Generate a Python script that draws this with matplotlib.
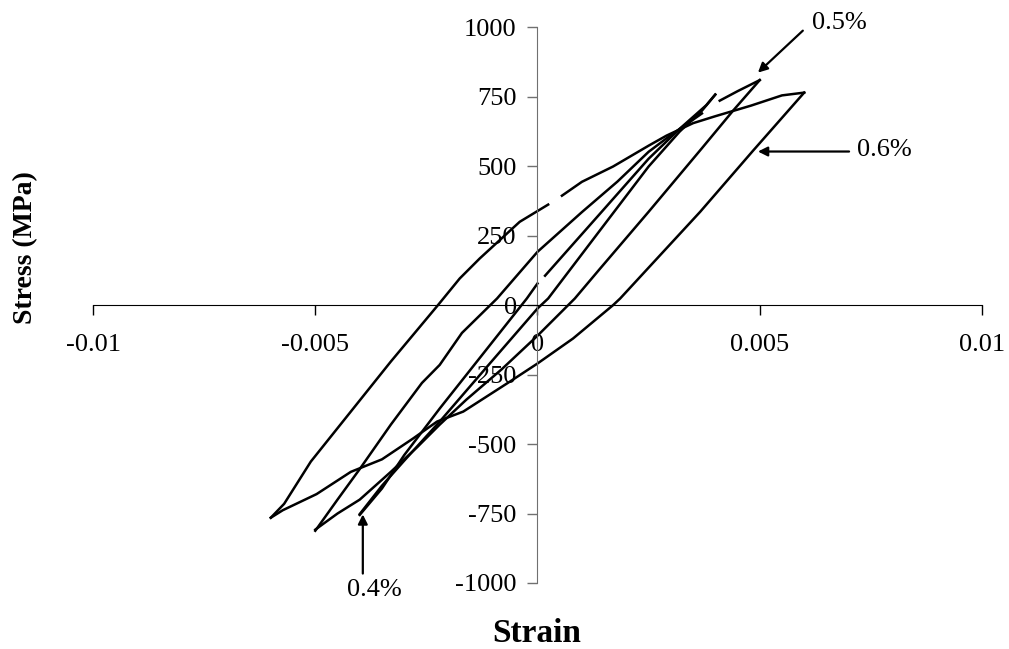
import numpy as np
import matplotlib
matplotlib.use("Agg")
import matplotlib.pyplot as plt

plt.rcParams['font.family'] = ['Liberation Serif', 'DejaVu Serif']

nan = float('nan')

# 0.6% loop (nan = break in the recorded line)
strain_06_load = [-0.006, -0.0057, -0.0051, -0.0042, -0.0033, -0.00224, -0.00175, -0.0013, -0.0004, 0.00024,
                  nan, 0.00055, 0.001, 0.0017, 0.0025, 0.0029, 0.0035, 0.004, 0.0048, 0.0055, 0.006]
stress_06_load = [-765, -715, -563, -383, -203, 0, 96, 168, 300, 362,
                  nan, 394, 444, 499, 574, 610, 655, 680, 718, 755, 765]
strain_06_unload = [0.006, 0.00485, 0.00366, 0.0025, 0.00186, 0.0017, 0.0008, 0.0, -0.00062, -0.00167,
                    -0.00226, -0.0028, -0.0035, -0.0042, -0.00497, -0.00573, -0.006]
stress_06_unload = [765, 556, 336, 135, 24, 0, -120, -210, -275, -383,
                    -419, -480, -555, -600, -680, -738, -765]

# 0.5% loop
strain_05_load = [-0.005, -0.0045, -0.004, -0.0033, -0.0026, -0.0022, -0.0017, -0.00091, 0.0, 0.001,
                  0.0018, 0.0025, 0.003, 0.0037, nan, 0.0041, 0.0045, 0.005]
stress_05_load = [-812, -700, -590, -430, -280, -215, -100, 24, 192, 335,
                  445, 552, 612, 690, nan, 736, 770, 810]
strain_05_unload = [0.005, 0.0044, 0.0037, 0.0025, 0.0014, 0.00084, 0.0, -0.0008, -0.0016, -0.0022,
                    -0.0027, -0.0033, -0.004, -0.0045, -0.005]
stress_05_unload = [810, 700, 565, 336, 130, 24, -110, -230, -340, -430,
                    -510, -600, -700, -750, -808]

# 0.4% loop
strain_04_load = [-0.004, -0.0035, -0.003, -0.0022, -0.0012, -0.00024, 0.0, nan, 0.00017, 0.0014,
                  0.0025, 0.0032, 0.0038, 0.004]
stress_04_load = [-755, -660, -540, -372, -170, 24, 78, nan, 106, 328,
                  527, 635, 720, 758]
strain_04_unload = [0.004, 0.0037, 0.0032, 0.0025, 0.0014, 0.00024, 0.0, -0.0011, -0.0022, -0.003,
                    -0.0035, -0.004]
stress_04_unload = [758, 700, 625, 499, 268, 24, -12, -215, -419, -560,
                    -650, -752]

branches = [(strain_06_load, stress_06_load), (strain_06_unload, stress_06_unload),
            (strain_05_load, stress_05_load), (strain_05_unload, stress_05_unload),
            (strain_04_load, stress_04_load), (strain_04_unload, stress_04_unload)]

x_ticks = [-0.01, -0.005, 0, 0.005, 0.01]
x_tick_labels = ['-0.01', '-0.005', '0', '0.005', '0.01']
y_ticks = [-1000, -750, -500, -250, 0, 250, 500, 750, 1000]

# labels: text, text position, arrow tail, arrow head
callouts = [('0.5%', (0.0068, 1017), (0.00597, 988), (0.00496, 837)),
            ('0.6%', (0.0078, 560), (0.00701, 553), (0.00496, 553)),
            ('0.4%', (-0.00367, -1025), (-0.00393, -966), (-0.00393, -753))]

fig = plt.figure(figsize=(10.09, 6.49), dpi=100)
ax = fig.add_axes([0.0922, 0.1017, 0.881, 0.8562])

for sx, sy in branches:
    ax.plot(sx, sy, color='black', lw=1.8)

ax.set_xlim(-0.01, 0.01)
ax.set_ylim(-1000, 1000)
ax.spines['left'].set_position(('data', 0))
ax.spines['bottom'].set_position(('data', 0))
ax.spines['top'].set_visible(False)
ax.spines['right'].set_visible(False)
ax.spines['left'].set_color('#707070')
ax.spines['bottom'].set_color('black')

ax.set_xticks(x_ticks)
ax.set_xticklabels(x_tick_labels)
ax.set_yticks(y_ticks)
ax.set_yticklabels([str(v) for v in y_ticks])
ax.tick_params(axis='x', direction='out', length=7, width=1, pad=14, labelsize=19)
ax.tick_params(axis='y', direction='out', length=7, width=1, pad=8, labelsize=19, color='#707070')

for txt, tpos, tail, head in callouts:
    ax.annotate('', xy=head, xytext=tail, annotation_clip=False,
                arrowprops=dict(arrowstyle='-|>', color='black', lw=1.6,
                                mutation_scale=14, shrinkA=0, shrinkB=0))
    ax.text(tpos[0], tpos[1], txt, ha='center', va='center', fontsize=19, clip_on=False)

fig.text(537 / 1009, 1 - 633 / 649, 'Strain', ha='center', va='center', fontsize=24, fontweight='bold')
fig.text(26 / 1009, 1 - 248 / 649, 'Stress (MPa)', ha='center', va='center', rotation=90,
         fontsize=20, fontweight='bold')

fig.savefig('out.png', dpi=100)
